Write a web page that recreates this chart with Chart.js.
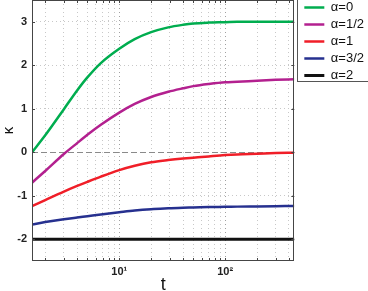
<!DOCTYPE html>
<html>
<head>
<meta charset="utf-8">
<script src="https://cdn.jsdelivr.net/npm/chart.js@4"></script>
<style>
  html, body { margin: 0; padding: 0; background: #fff; }
  #wrap { width: 368px; height: 291px; }
</style>
</head>
<body>
<div id="wrap"><canvas id="kappaChart"></canvas></div>
<script>
// kappa(t) for several alpha, log time axis
const tValues = [1.5, 2, 3, 4, 5, 6.7, 10, 14, 20, 29, 40, 50, 70, 100, 130, 200, 300, 450];
const alpha0  = [0.00, 0.39, 0.99, 1.42, 1.72, 2.05, 2.38, 2.60, 2.76, 2.87, 2.93, 2.96, 2.98, 2.99, 3.00, 3.00, 3.00, 3.00];
const alpha12 = [-0.70, -0.43, -0.04, 0.21, 0.40, 0.63, 0.91, 1.11, 1.27, 1.39, 1.47, 1.52, 1.57, 1.61, 1.62, 1.645, 1.665, 1.68];
const alpha1  = [-1.24, -1.10, -0.905, -0.775, -0.68, -0.56, -0.41, -0.31, -0.23, -0.18, -0.145, -0.125, -0.095, -0.065, -0.05, -0.035, -0.02, -0.01];
const alpha32 = [-1.66, -1.605, -1.54, -1.50, -1.47, -1.43, -1.38, -1.34, -1.31, -1.29, -1.275, -1.27, -1.26, -1.255, -1.25, -1.245, -1.24, -1.235];
const alpha2  = [-2, -2, -2, -2, -2, -2, -2, -2, -2, -2, -2, -2, -2, -2, -2, -2, -2, -2];

const seriesLabels = ["α=0", "α=1/2", "α=1", "α=3/2", "α=2"];
const seriesColors = ["#00ad4f", "#b3208f", "#f01e28", "#26308f", "#111111"];
const seriesData = [alpha0, alpha12, alpha1, alpha32, alpha2];

const xTicks = [2, 3, 4, 5, 6, 7, 8, 9, 10, 20, 30, 40, 50, 60, 70, 80, 90, 100, 200, 300, 400];
const yTicks = [-2, -1, 0, 1, 2, 3];
const xMin = 1.5, xMax = 450, yMin = -2.5, yMax = 3.5;

const FONT = "Liberation Sans, Arial, sans-serif";

const datasets = seriesData.map((arr, i) => ({
    label: seriesLabels[i],
    data: arr.map((v, j) => ({x: tValues[j], y: v})),
    borderColor: seriesColors[i],
    backgroundColor: seriesColors[i],
    borderWidth: i == 4 ? 3 : 2.5,
    pointRadius: 0,
    cubicInterpolationMode: "monotone",
    fill: false
}));

// box around plot, inward ticks, legend frame
const frame = {
    id: "frame",
    afterLayout(chart) {
        chart.legend.left += 6;
        chart.legend.top -= 3;
    },
    afterDraw(chart) {
        const ctx = chart.ctx;
        const a = chart.chartArea;
        const xs = chart.scales.x, ys = chart.scales.y;
        ctx.save();
        ctx.strokeStyle = "#454545";
        ctx.lineWidth = 1;
        ctx.strokeRect(Math.round(a.left) + 0.5, Math.round(a.top) + 0.5,
            Math.round(a.right - a.left) - 1, Math.round(a.bottom - a.top) - 1);
        ctx.beginPath();
        xs.ticks.forEach(t => {
            const px = Math.round(xs.getPixelForValue(t.value)) + 0.5;
            ctx.moveTo(px, a.bottom); ctx.lineTo(px, a.bottom - 3);
            ctx.moveTo(px, a.top); ctx.lineTo(px, a.top + 3);
        });
        ys.ticks.forEach(t => {
            const py = Math.round(ys.getPixelForValue(t.value)) + 0.5;
            ctx.moveTo(a.left, py); ctx.lineTo(a.left + 3, py);
            ctx.moveTo(a.right, py); ctx.lineTo(a.right - 3, py);
        });
        ctx.stroke();
        const boxes = chart.legend.legendHitBoxes;
        if (boxes.length) {
            const last = boxes[boxes.length - 1];
            const lx = Math.round(boxes[0].left) - 6.5;
            const by = Math.round(last.top + last.height / 2) + 5.5;
            ctx.strokeStyle = "#555";
            ctx.strokeRect(lx, -0.5, 120, by + 0.5);
        }
        ctx.restore();
    }
};

new Chart("kappaChart", {
    type: "line",
    data: {datasets: datasets},
    plugins: [frame],
    options: {
        responsive: true,
        maintainAspectRatio: false,
        animation: false,
        layout: {padding: 0},
        plugins: {
            tooltip: {enabled: false},
            legend: {
                position: "right",
                align: "start",
                labels: {
                    usePointStyle: true,
                    pointStyle: "line",
                    pointStyleWidth: 20,
                    boxHeight: 12,
                    padding: 4,
                    color: "#111",
                    font: {family: FONT, size: 13}
                }
            }
        },
        scales: {
            x: {
                type: "logarithmic",
                min: xMin,
                max: xMax,
                afterBuildTicks: s => { s.ticks = xTicks.map(v => ({value: v})); },
                afterFit: s => { s.height = 30; s.paddingLeft = 0; s.paddingRight = 0; },
                border: {
                    display: false,
                    dash: [1, 3]
                },
                grid: {
                    color: ctx => (ctx.tick && (ctx.tick.value == 10 || ctx.tick.value == 100)) ? "#a0a0a0" : "#c8c8c8",
                    drawTicks: false,
                    lineWidth: 1
                },
                ticks: {
                    autoSkip: false,
                    maxRotation: 0,
                    padding: 4,
                    color: "#222",
                    font: {family: FONT, size: 11, weight: "bold"},
                    callback: v => v == 10 ? "10¹" : (v == 100 ? "10²" : "")
                },
                title: {
                    display: true,
                    text: "t",
                    color: "#111",
                    padding: {top: 0, bottom: -5},
                    font: {family: FONT, size: 18}
                }
            },
            y: {
                min: yMin,
                max: yMax,
                afterBuildTicks: s => { s.ticks = yTicks.map(v => ({value: v})); },
                afterFit: s => { s.width = 32; s.paddingTop = 0; s.paddingBottom = 0; },
                border: {
                    display: false,
                    dash: ctx => (ctx.tick && ctx.tick.value == 0) ? [6, 3] : [1, 3]
                },
                grid: {
                    color: ctx => (ctx.tick && ctx.tick.value == 0) ? "#8a8a8a" : "#c8c8c8",
                    drawTicks: false,
                    lineWidth: 1
                },
                ticks: {
                    padding: 5,
                    color: "#222",
                    font: {family: FONT, size: 11, weight: "bold"}
                },
                title: {
                    display: true,
                    text: "κ",
                    color: "#111",
                    padding: {top: 0, bottom: 0},
                    font: {family: FONT, size: 15}
                }
            }
        }
    }
});
</script>
</body>
</html>
